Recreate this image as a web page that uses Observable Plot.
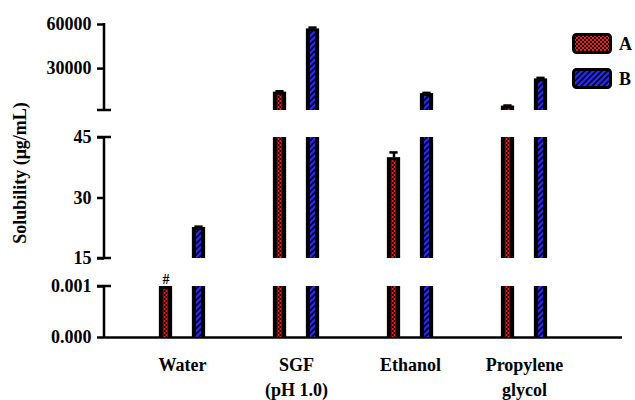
<!DOCTYPE html>
<html><head><meta charset="utf-8">
<script src="https://cdn.jsdelivr.net/npm/d3@7"></script>
<script src="https://cdn.jsdelivr.net/npm/@observablehq/plot@0.6"></script>
<style>
html,body{margin:0;padding:0;background:#fff;}
#wrap{position:relative;width:635px;height:400px;overflow:hidden;}
.legtxt{position:absolute;font:bold 18px 'Liberation Serif','Times New Roman',serif;line-height:1;}
.legbox{position:absolute;}
#ylabel{position:absolute;left:20px;top:173px;transform:translate(-50%,-50%) rotate(-90deg);white-space:nowrap;font:bold 18px 'Liberation Serif','Times New Roman',serif;line-height:1;}
</style></head><body><div id="wrap"></div>
<script>
// ---- data ----
const categories = ["Water", "SGF", "Ethanol", "Propylene glycol"];
const categoryLabels = ["Water", "SGF\n(pH 1.0)", "Ethanol", "Propylene\nglycol"];
const series = ["A", "B"];
const valuesA = [0.001, 14000, 40, 4500];
const valuesB = [22.7, 57000, 13000, 23000];
const errorsA = [0, 600, 1.3, 400];
const errorsB = [0.2, 900, 500, 700];
const yTicks = [0, 0.001, 15, 30, 45, 30000, 60000];
const yTickLabels = ["0.000", "0.001", "15", "30", "45", "30000", "60000"];
const segments = [[0, 0.001], [15, 45], [1500, 60000]];
const noteMarks = [{category: "Water", series: "A", value: 0.001, text: "#"}];
const yLabel = "Solubility (\u03bcg/mL)";

// ---- layout ----
const W = 635, H = 400;
const xRange = [123, 582];
const bw = (xRange[1] - xRange[0]) / categories.length;
const offset = {A: -16.5, B: 16.5};
const fillOf = {A: "url(#patA)", B: "url(#patB)"};

const rows = [];
categories.forEach((c, i) => {
  rows.push({category: c, series: "A", value: valuesA[i], error: errorsA[i]});
  rows.push({category: c, series: "B", value: valuesB[i], error: errorsB[i]});
});
const pieces = [];
for (const r of rows) {
  for (const [lo, hi] of segments) {
    if (r.value > lo) pieces.push({...r, lo, hi: Math.min(r.value, hi), capped: r.value <= hi});
  }
}

const marks = [Plot.ruleY([0], {strokeWidth: 2.5})];
for (const s of series) {
  const P = pieces.filter(d => d.series === s);
  const R = rows.filter(d => d.series === s && d.error > 0);
  const dx = offset[s];
  marks.push(
    Plot.barY(P, {x: "category", y1: "lo", y2: "hi", fill: "black", dx, insetLeft: (bw - 14) / 2, insetRight: (bw - 14) / 2}),
    Plot.barY(P.filter(d => d.capped), {x: "category", y1: "lo", y2: "hi", fill: fillOf[s], dx, insetLeft: (bw - 6) / 2, insetRight: (bw - 6) / 2, insetTop: 3}),
    Plot.barY(P.filter(d => !d.capped), {x: "category", y1: "lo", y2: "hi", fill: fillOf[s], dx, insetLeft: (bw - 6) / 2, insetRight: (bw - 6) / 2}),
    Plot.ruleX(R, {x: "category", y1: "value", y2: d => d.value + d.error, dx, strokeWidth: 2.5}),
    Plot.tickY(R, {x: "category", y: d => d.value + d.error, dx, strokeWidth: 2.5, insetLeft: (bw - 9) / 2, insetRight: (bw - 9) / 2})
  );
}
marks.push(
  Plot.text(noteMarks, {x: "category", y: "value", text: "text", dx: offset.A, dy: -3, lineAnchor: "bottom", fontSize: 14}),
  Plot.axisY({ticks: yTicks, tickFormat: (d) => yTickLabels[yTicks.indexOf(d)], tickSize: 7, tickPadding: 6, strokeWidth: 2.5, label: null}),
  (index, scales, values, dims) => {
    const y = scales.y;
    const x0 = dims.marginLeft;
    const g = d3.create("svg:g").attr("stroke", "black").attr("stroke-width", 2.5).attr("fill", "none");
    for (const [lo, hi] of segments) {
      g.append("line").attr("x1", x0).attr("x2", x0).attr("y1", y(lo) + 1).attr("y2", y(hi) - 1);
    }
    for (const [lo, hi] of segments) {
      for (const v of [lo, hi]) {
        if (v === 0 || v === 60000) continue;
        g.append("line").attr("x1", x0 - 7).attr("x2", x0 + 7).attr("y1", y(v)).attr("y2", y(v));
      }
    }
    return g.node();
  },
  Plot.text(categories, {x: d => d, text: (d, i) => categoryLabels[i], frameAnchor: "bottom", lineAnchor: "top", dy: 15, lineHeight: 1.42})
);

const chart = Plot.plot({
  width: W, height: H,
  marginLeft: 104, marginRight: 13, marginTop: 24, marginBottom: 63,
  style: {fontFamily: "'Liberation Serif','Times New Roman',serif", fontSize: "18px", fontWeight: "bold", color: "black", background: "white", overflow: "visible"},
  x: {type: "band", domain: categories, range: xRange, padding: 0, axis: null},
  y: {type: "linear", domain: [0, 0.001, 15, 45, 1500, 60000], range: [337, 286, 258, 137, 110, 24]},
  marks
});

function addPatterns(svgNode, idA, idB) {
  const defs = d3.select(svgNode).insert("defs", ":first-child");
  const pa = defs.append("pattern").attr("id", idA).attr("width", 4).attr("height", 4).attr("patternUnits", "userSpaceOnUse");
  pa.append("rect").attr("width", 4).attr("height", 4).attr("fill", "#000");
  pa.append("rect").attr("width", 2).attr("height", 2).attr("fill", "#ff1a1a");
  pa.append("rect").attr("x", 2).attr("y", 2).attr("width", 2).attr("height", 2).attr("fill", "#ff1a1a");
  const pb = defs.append("pattern").attr("id", idB).attr("width", 4).attr("height", 4).attr("patternUnits", "userSpaceOnUse").attr("patternTransform", "rotate(45)");
  pb.append("rect").attr("width", 4).attr("height", 4).attr("fill", "#000");
  pb.append("rect").attr("width", 2.4).attr("height", 4).attr("fill", "#2a2aff");
}
addPatterns(chart, "patA", "patB");

const wrap = document.getElementById("wrap");
wrap.appendChild(chart);

// y-axis title
const yl = document.createElement("div");
yl.id = "ylabel";
yl.textContent = yLabel;
wrap.appendChild(yl);

// legend
const legendTops = [33, 68];
series.forEach((s, i) => {
  const box = d3.create("svg").attr("class", "legbox").attr("width", 40).attr("height", 21)
    .style("left", "572px").style("top", legendTops[i] + "px");
  addPatterns(box.node(), "leg" + s + "A", "leg" + s + "B");
  box.append("rect").attr("x", 1.5).attr("y", 1.5).attr("width", 37).attr("height", 18).attr("rx", 3)
    .attr("fill", s === "A" ? "url(#leg" + s + "A)" : "url(#leg" + s + "B)").attr("stroke", "black").attr("stroke-width", 3);
  wrap.appendChild(box.node());
  const t = document.createElement("div");
  t.className = "legtxt";
  t.textContent = s;
  t.style.left = "619px";
  t.style.top = (legendTops[i] + 2) + "px";
  wrap.appendChild(t);
});
</script></body></html>
